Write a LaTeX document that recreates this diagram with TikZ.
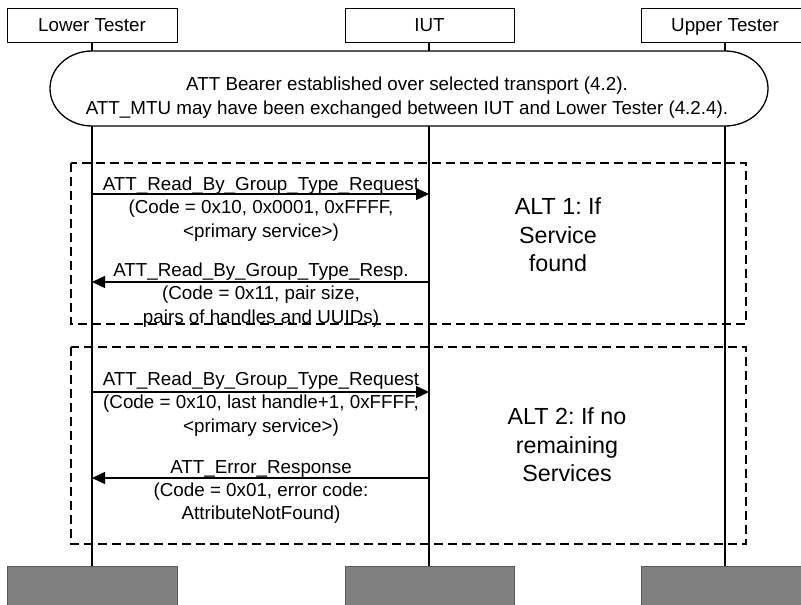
\documentclass[tikz,border=0pt]{standalone}
\usepackage{fontspec}
\setmainfont{Liberation Sans}
\usetikzlibrary{arrows.meta}
\definecolor{boxgray}{RGB}{128,128,128}
\frenchspacing
\begin{document}
\begin{tikzpicture}[x=1pt,y=-1pt,
  lbl/.style={font=\fontsize{18.8}{23.3}\selectfont\frenchspacing, align=center, inner sep=0pt},
  hdr/.style={draw, line width=1pt, minimum height=34pt, inner sep=0pt, text height=13.3pt, text depth=0pt, font=\fontsize{18.8}{22}\selectfont},
  life/.style={line width=2pt},
  msg/.style={line width=1.3pt, -{Triangle[length=13pt,width=12pt]}},
  altbox/.style={draw, dash pattern=on 9pt off 5pt, line width=1.4pt},
  gbox/.style={fill=boxgray, draw=black!65, line width=0.8pt, minimum height=60pt, inner sep=0pt, anchor=north},
  alttext/.style={font=\fontsize{23.3}{28.5}\selectfont\frenchspacing, align=center, inner sep=0pt},
  pill/.style={line width=1.3pt, fill=white}
]
\clip (0,0) rectangle (801,605);
\fill[white] (0,0) rectangle (801,605);

% headers
\node[hdr, minimum width=170pt] (lt) at (92,25) {Lower Tester};
\node[hdr, minimum width=169pt] (iut) at (429.5,25) {IUT};
\node[hdr, minimum width=168pt] (ut) at (725,25) {Upper Tester};

% bottom boxes
\node[gbox, minimum width=170pt] (ltb) at (92,566) {};
\node[gbox, minimum width=169pt] (iutb) at (429.5,566) {};
\node[gbox, minimum width=168pt] (utb) at (725,566) {};

% lifelines
\draw[life] (lt.south -| 92,0) -- (ltb.north -| 92,0);
\draw[life] (iut.south -| 429,0) -- (iutb.north -| 429,0);
\draw[life] (ut.south) -- (utb.north);

% setup box
\draw[pill] (92,51) -- (725,51) arc[start angle=90, end angle=-90, x radius=43pt, y radius=37.5pt]
  -- (92,126) arc[start angle=270, end angle=90, x radius=42pt, y radius=37.5pt] -- cycle;
\node[lbl] (setup) at (407,97.5) {ATT Bearer established over selected transport (4.2).\\ATT\_MTU may have been exchanged between IUT and Lower Tester (4.2.4).};

% alt boxes
\draw[altbox] (71,163) rectangle (746,324);
\draw[altbox] (71,347) rectangle (746,544);
\node[alttext] (alt1) at (558,235) {ALT 1: If\\Service\\found};
\node[alttext] (alt2) at (567,445) {ALT 2: If no\\remaining\\Services};

% messages
\coordinate (m1s) at (92,194);  \coordinate (m1e) at (429,194);
\coordinate (m2s) at (429,282); \coordinate (m2e) at (92,282);
\coordinate (m3s) at (92,392);  \coordinate (m3e) at (429,392);
\coordinate (m4s) at (429,478); \coordinate (m4e) at (92,478);
\draw[msg] (m1s) -- (m1e);
\draw[msg] (m2s) -- (m2e);
\draw[msg] (m3s) -- (m3e);
\draw[msg] (m4s) -- (m4e);

\node[lbl] (l1) at (261,209) {ATT\_Read\_By\_Group\_Type\_Request\\(Code = 0x10, 0x0001, 0xFFFF,\\<primary service>)};
\node[lbl] (l2) at (261,295) {ATT\_Read\_By\_Group\_Type\_Resp.\\(Code = 0x11, pair size,\\pairs of handles and UUIDs)};
\node[lbl] (l3) at (261,404) {ATT\_Read\_By\_Group\_Type\_Request\\(Code = 0x10, last handle+1, 0xFFFF,\\<primary service>)};
\node[lbl] (l4) at (261,492) {ATT\_Error\_Response\\(Code = 0x01, error code:\\AttributeNotFound)};
\end{tikzpicture}
\end{document}
